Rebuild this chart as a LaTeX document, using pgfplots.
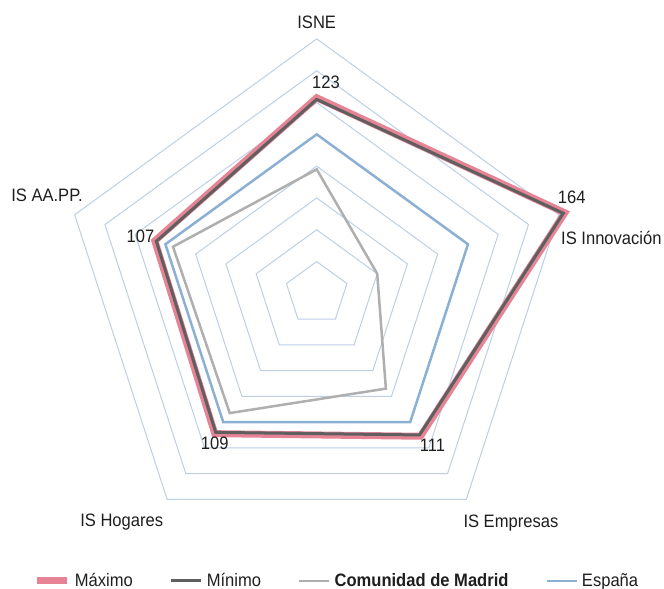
\documentclass[border=0pt]{standalone}
\usepackage{pgfplots}
\pgfplotsset{compat=1.18}
\usepgfplotslibrary{polar}
\usepackage{fontspec}
\setmainfont{Liberation Sans}[FakeStretch=0.92]
\definecolor{cmax}{RGB}{230,132,150}
\definecolor{cmin}{RGB}{95,95,95}
\definecolor{cmad}{RGB}{175,175,175}
\definecolor{cesp}{RGB}{140,176,212}
\definecolor{cgrid}{RGB}{188,207,228}
\definecolor{ctxt}{RGB}{30,30,30}
\begin{document}
\fontsize{18bp}{21bp}\selectfont
\begin{tikzpicture}
\useasboundingbox (0,0) rectangle (664bp,589bp);
\begin{polaraxis}[
  at={(316.7bp,295.6bp)}, anchor=origin,
  width=509bp, height=509bp, scale only axis,
  xmin=0, xmax=360, ymin=0, ymax=160,
  hide axis, clip=false,
  legend columns=4,
  legend style={draw=none, fill=none, at={(-0.056,-0.065)}, anchor=west,
    inner sep=0pt, text=ctxt,
    font=\fontsize{18bp}{21bp}\selectfont,
    /tikz/every even column/.append style={column sep=35bp},
    /tikz/every odd column/.append style={column sep=2bp}},
  legend image code/.code={\draw[#1, line cap=butt] (0bp,0bp) -- (30bp,0bp);},
]
% grid rings
\addplot[forget plot, cgrid, line width=1bp] coordinates {(90,20)(18,20)(-54,20)(-126,20)(-198,20)} -- cycle;
\addplot[forget plot, cgrid, line width=1bp] coordinates {(90,40)(18,40)(-54,40)(-126,40)(-198,40)} -- cycle;
\addplot[forget plot, cgrid, line width=1bp] coordinates {(90,60)(18,60)(-54,60)(-126,60)(-198,60)} -- cycle;
\addplot[forget plot, cgrid, line width=1bp] coordinates {(90,80)(18,80)(-54,80)(-126,80)(-198,80)} -- cycle;
\addplot[forget plot, cgrid, line width=1bp] coordinates {(90,100)(18,100)(-54,100)(-126,100)(-198,100)} -- cycle;
\addplot[forget plot, cgrid, line width=1bp] coordinates {(90,120)(18,120)(-54,120)(-126,120)(-198,120)} -- cycle;
\addplot[forget plot, cgrid, line width=1bp] coordinates {(90,140)(18,140)(-54,140)(-126,140)(-198,140)} -- cycle;
\addplot[forget plot, cgrid, line width=1bp] coordinates {(90,160)(18,160)(-54,160)(-126,160)(-198,160)} -- cycle;
% series
\addplot[cmax, line width=7bp, line join=miter] coordinates {(-54,111)(-126,109)(-198,107)(90,123)(18,164)} -- cycle;
\addlegendentry{Máximo}
\addplot[cmin, line width=3bp, line join=miter] coordinates {(-54,110)(-126,108)(-198,106)(90,122)(18,163)} -- cycle;
\addlegendentry{Mínimo}
\addplot[cmad, line width=2.5bp, line join=miter] coordinates {(-54,74)(-126,93)(-198,95)(90,78)(18,40)} -- cycle;
\addlegendentry{\textbf{Comunidad de Madrid}}
\addplot[cesp, line width=2.5bp, line join=miter] coordinates {(-54,100)(-126,100)(-198,100)(90,100)(18,100)} -- cycle;
\addlegendentry{España}
\end{polaraxis}
% category labels
\begin{scope}[every node/.style={inner sep=0pt, text=ctxt}]
\node[anchor=base] at (316.7bp,560.7bp) {ISNE};
\node[anchor=base] at (611.4bp,344bp) {IS Innovación};
\node[anchor=base] at (510.9bp,61.7bp) {IS Empresas};
\node[anchor=base] at (121.7bp,62.3bp) {IS Hogares};
\node[anchor=base east] at (83bp,387.3bp) {IS AA.PP.};
% value labels
\node[anchor=base] at (326bp,500.7bp) {123};
\node[anchor=base] at (571.7bp,385bp) {164};
\node[anchor=base] at (432.5bp,137.3bp) {111};
\node[anchor=base] at (214.7bp,139bp) {109};
\node[anchor=base] at (140.5bp,346.3bp) {107};
\end{scope}
\end{tikzpicture}
\end{document}
